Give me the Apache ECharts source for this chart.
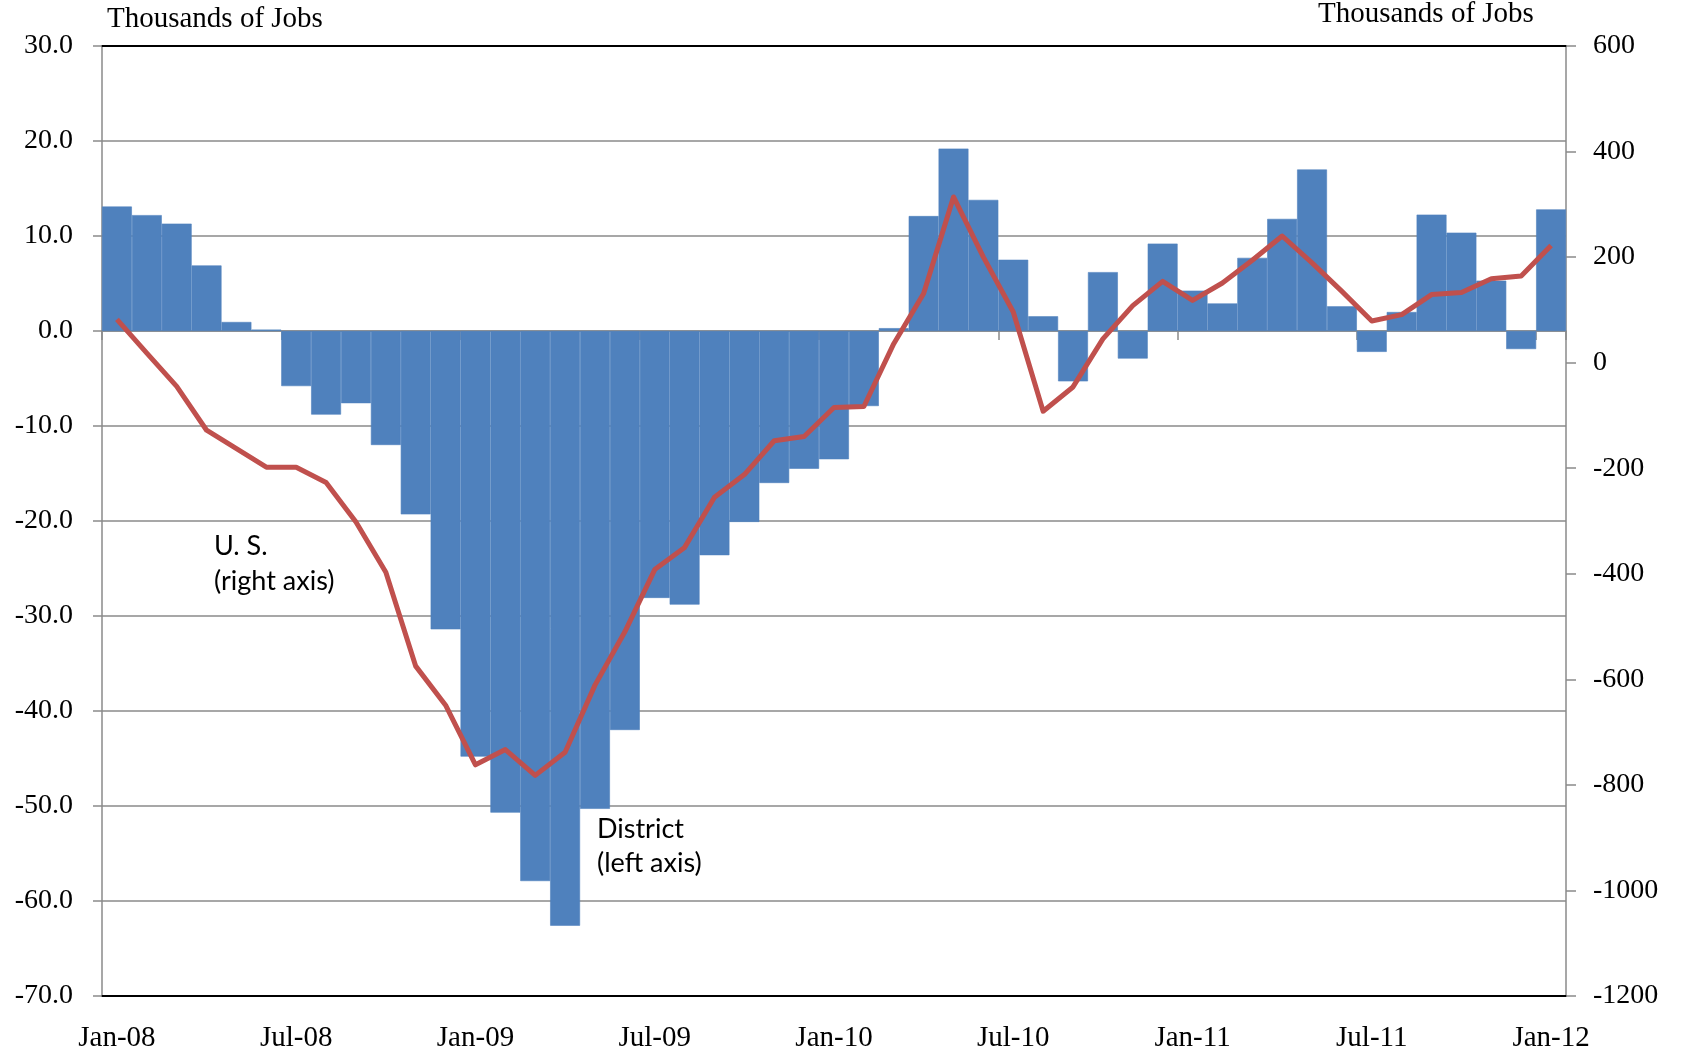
<!DOCTYPE html>
<html>
<head>
<meta charset="utf-8">
<script src="https://cdn.jsdelivr.net/npm/echarts@6/dist/echarts.min.js"></script>
<style>
    html, body { margin: 0; padding: 0; background: #fff; }
    #chart { width: 1683px; height: 1059px; }
</style>
</head>
<body>
<div id="chart"></div>
<script>
// months, Jan-08 .. Jan-12
var months = [
    'Jan-08','Feb-08','Mar-08','Apr-08','May-08','Jun-08','Jul-08','Aug-08','Sep-08','Oct-08','Nov-08','Dec-08',
    'Jan-09','Feb-09','Mar-09','Apr-09','May-09','Jun-09','Jul-09','Aug-09','Sep-09','Oct-09','Nov-09','Dec-09',
    'Jan-10','Feb-10','Mar-10','Apr-10','May-10','Jun-10','Jul-10','Aug-10','Sep-10','Oct-10','Nov-10','Dec-10',
    'Jan-11','Feb-11','Mar-11','Apr-11','May-11','Jun-11','Jul-11','Aug-11','Sep-11','Oct-11','Nov-11','Dec-11',
    'Jan-12'
];

// District, thousands of jobs (left axis)
var district = [
    13.1, 12.2, 11.3, 6.9, 0.95, 0.15, -5.8, -8.8, -7.6, -12.0, -19.3, -31.4,
    -44.8, -50.7, -57.9, -62.6, -50.3, -42.0, -28.1, -28.8, -23.6, -20.1, -16.0, -14.5,
    -13.5, -7.9, 0.3, 12.1, 19.2, 13.8, 7.5, 1.55, -5.3, 6.2, -2.9, 9.2,
    4.25, 2.9, 7.7, 11.8, 17.0, 2.6, -2.2, 2.0, 12.25, 10.35, 5.3, -1.9,
    12.8
];

// U.S., thousands of jobs (right axis)
var us = [
    82, 18, -45, -128, -163, -198, -198, -227, -302, -397, -575, -649,
    -762, -733, -782, -738, -611, -510, -392, -350, -255, -212, -148, -140,
    -85, -83, 36, 131, 314, 200, 96, -92, -46, 45, 108, 154,
    118, 151, 194, 240, 189, 135, 79, 91, 129, 133, 159, 164,
    222
];

var gridGray = '#8a8a8a';
var serif = '"Liberation Serif", "DejaVu Serif", serif';
var sans = 'Lato, "Open Sans", sans-serif';

var myChart = echarts.init(document.getElementById('chart'));

var option = {
    animation: false,
    grid: {
        left: 102,
        right: 117,
        top: 46,
        bottom: 63
    },
    xAxis: [
        {
            // axis line at zero, ticks every six months
            type: 'category',
            data: months,
            position: 'bottom',
            boundaryGap: true,
            axisLine: {
                show: true,
                onZero: true,
                onZeroAxisIndex: 0,
                lineStyle: { color: gridGray, width: 1.5 }
            },
            axisTick: {
                show: true,
                interval: 5,
                length: 9,
                lineStyle: { color: gridGray, width: 1.5 }
            },
            axisLabel: { show: false },
            splitLine: { show: false }
        },
        {
            // labels at bottom of plot
            type: 'category',
            data: months,
            position: 'bottom',
            boundaryGap: true,
            axisLine: {
                show: true,
                onZero: false,
                lineStyle: { color: '#000', width: 2 }
            },
            axisTick: { show: false },
            axisLabel: {
                show: true,
                interval: 5,
                margin: 28,
                color: '#000',
                fontFamily: serif,
                fontSize: 29
            },
            splitLine: { show: false }
        },
        {
            // top border
            type: 'category',
            data: months,
            position: 'top',
            axisLine: {
                show: true,
                onZero: false,
                lineStyle: { color: '#000', width: 2 }
            },
            axisTick: { show: false },
            axisLabel: { show: false },
            splitLine: { show: false }
        }
    ],
    yAxis: [
        {
            type: 'value',
            position: 'left',
            min: -70,
            max: 30,
            interval: 10,
            axisLine: { show: true, lineStyle: { color: gridGray, width: 1.5 } },
            axisTick: { show: true, length: 9, lineStyle: { color: gridGray, width: 1.5 } },
            axisLabel: {
                margin: 29,
                color: '#000',
                fontFamily: serif,
                fontSize: 28,
                formatter: function (v) { return v.toFixed(1); }
            },
            splitLine: { show: true, lineStyle: { color: gridGray, width: 1.5 } }
        },
        {
            type: 'value',
            position: 'right',
            min: -1200,
            max: 600,
            interval: 200,
            axisLine: { show: true, lineStyle: { color: gridGray, width: 1.5 } },
            axisTick: { show: true, length: 10, lineStyle: { color: gridGray, width: 1.5 } },
            axisLabel: {
                margin: 27,
                color: '#000',
                fontFamily: serif,
                fontSize: 28,
                formatter: function (v) { return String(v); }
            },
            splitLine: { show: false }
        }
    ],
    series: [
        {
            name: 'District',
            type: 'bar',
            xAxisIndex: 0,
            yAxisIndex: 0,
            data: district,
            barCategoryGap: '0%',
            itemStyle: { color: '#4f81bd', borderColor: '#4f81bd', borderWidth: 0.6 },
            z: 2
        },
        {
            name: 'U. S.',
            type: 'line',
            xAxisIndex: 0,
            yAxisIndex: 1,
            data: us,
            symbol: 'none',
            lineStyle: { color: '#c0504d', width: 5, join: 'round' },
            z: 3
        }
    ],
    graphic: [
        {
            type: 'text', left: 107, top: 5,
            style: { text: 'Thousands of Jobs', fontFamily: serif, fontSize: 29, fill: '#000' }
        },
        {
            type: 'text', left: 1318, top: 0,
            style: { text: 'Thousands of Jobs', fontFamily: serif, fontSize: 29, fill: '#000' }
        },
        {
            type: 'text', left: 214, top: 529,
            style: { text: 'U. S.\n(right axis)', fontFamily: sans, fontSize: 27, lineHeight: 35, fill: '#000' }
        },
        {
            type: 'text', left: 597, top: 812,
            style: { text: 'District\n(left axis)', fontFamily: sans, fontSize: 27, lineHeight: 34, fill: '#000' }
        }
    ]
};

myChart.setOption(option);
</script>
</body>
</html>
